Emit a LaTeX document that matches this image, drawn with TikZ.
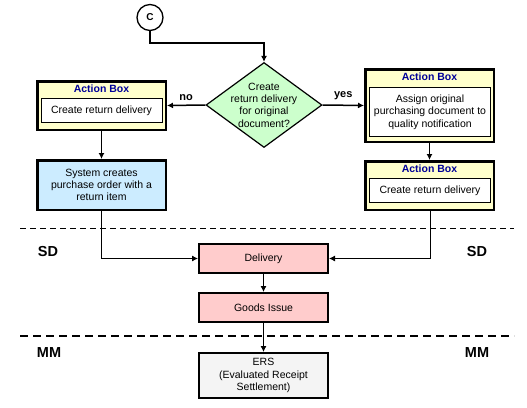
\documentclass[tikz,border=0pt]{standalone}
\usepackage{fontspec}
\setmainfont{Liberation Sans}
\usetikzlibrary{shapes.geometric, arrows.meta, positioning}

\definecolor{boxyellow}{HTML}{FFFFCC}
\definecolor{titleblue}{HTML}{000099}
\definecolor{qgreen}{HTML}{CCFFCC}
\definecolor{sysblue}{HTML}{CCECFF}
\definecolor{sdpink}{HTML}{FFCCCC}
\definecolor{ersgrey}{HTML}{F4F4F4}

\tikzset{
	every node/.style={font=\fontsize{10.5}{12.3}\selectfont},
	actionbox/.style={draw, line width=2.5pt, fill=boxyellow, minimum width=128.5pt, inner sep=0pt},
	actiontitle/.style={text=titleblue, font=\bfseries\fontsize{10.5}{12.3}\selectfont, inner sep=0pt},
	actioninner/.style={draw, line width=1pt, fill=white, minimum width=121pt, align=center, inner sep=0pt},
	process/.style={draw, line width=2pt, minimum width=129pt, align=center, inner sep=0pt},
	decision/.style={diamond, draw, line width=1.2pt, fill=qgreen, minimum width=116pt, minimum height=85pt, inner sep=0pt},
	lane/.style={font=\bfseries\fontsize{14.5}{16}\selectfont},
	answer/.style={font=\bfseries\fontsize{11}{13}\selectfont}
}

\begin{document}
\begin{tikzpicture}[x=1pt, y=-1pt, >={Latex[length=6pt,width=6pt]}]
		
		\useasboundingbox (0,0) rectangle (527,407);
		
		% swimlane borders
		\draw[line width=1pt, dash pattern=on 6pt off 4pt] (20,228) -- (514,228);
		\draw[line width=2.5pt, dash pattern=on 8pt off 5pt] (20,336) -- (514,336);
		\node[lane] (sdl) at (48,252) {SD};
		\node[lane] (sdr) at (477,252) {SD};
		\node[lane] (mml) at (49,353) {MM};
		\node[lane] (mmr) at (477,353) {MM};
		
		\node[circle, draw, line width=1.3pt, minimum size=26pt, inner sep=0pt, font=\bfseries\fontsize{10}{12}\selectfont] (C) at (150,17.5) {C};
		
		\node[decision] (q) at (264,105) {};
		\node[align=center, inner sep=0pt] (qtext) at (q) {Create\\return delivery\\for original\\document?};
		
		% left branch
		\node[actionbox, minimum height=48.5pt] (la) at (101.5,105.5) {};
		\node[actiontitle] (latitle) at (101.5,89) {Action Box};
		\node[actioninner, minimum height=24pt] (lain) at (101.5,110.5) {Create return delivery};
		\node[process, fill=sysblue, minimum width=128.5pt, line width=2.5pt, minimum height=49.5pt] (sys) at (101.5,185) {System creates\\purchase order with a\\return item};
		
		% right branch
		\node[actionbox, minimum height=72.5pt] (ra) at (429.5,105.5) {};
		\node[actiontitle] (ratitle) at (429.5,77) {Action Box};
		\node[actioninner, minimum height=49pt] (rain) at (430,112) {Assign original\\purchasing document to\\quality notification};
		\node[actionbox, minimum height=48.5pt] (rb) at (429.5,185.5) {};
		\node[actiontitle] (rbtitle) at (429.5,169) {Action Box};
		\node[actioninner, minimum height=24pt] (rbin) at (430,190.5) {Create return delivery};
		
		% SD / MM
		\node[process, fill=sdpink, minimum height=29pt] (del) at (263.5,258.5) {Delivery};
		\node[process, fill=sdpink, minimum height=29pt] (gi) at (263.5,307.5) {Goods Issue};
		\node[process, fill=ersgrey, minimum height=45pt] (ers) at (263.5,375.5) {ERS\\(Evaluated Receipt\\Settlement)};
		
		\draw[->, line width=1.5pt] (C.south) -- ++(0,12) -| (q.north);
		\draw[->, line width=1.5pt] (q.west) -- node[answer, above=1pt] {no} (la.east);
		\draw[->, line width=1.5pt] (q.east) -- node[answer, above=1pt] {yes} (ra.west);
		\draw[->, line width=1.5pt] (la.south) -- (sys.north);
		\draw[->, line width=1.5pt] (ra.south) -- (rb.north);
		\draw[->, line width=0.9pt] (sys.south) |- (del.west);
		\draw[->, line width=0.9pt] (rb.south -| rbin) |- (del.east);
		\draw[->, line width=0.9pt] (del) -- (gi);
		\draw[->, line width=0.9pt] (gi) -- (ers);
		
\end{tikzpicture}
\end{document}
